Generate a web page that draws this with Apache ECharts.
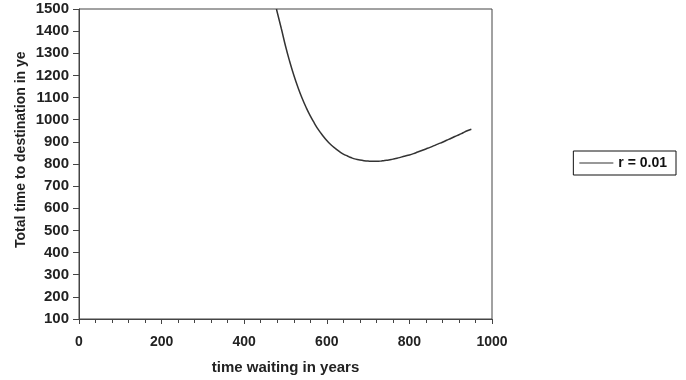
<!DOCTYPE html>
<html><head><meta charset="utf-8">
<script src="https://cdn.jsdelivr.net/npm/echarts@6/dist/echarts.min.js"></script>
<style>html,body{margin:0;padding:0;background:#fff}#c{width:686px;height:380px}</style>
</head><body><div id="c"></div>
<script>
const waitYears = [478,490,500,510,520,530,540,550,560,570,580,590,600,610,620,630,640,650,660,670,680,690,700,710,720,730,740,750,760,770,780,790,800,810,820,830,840,850,860,870,880,890,900,910,920,930,940,950];
const totalYears = [1500,1411,1333,1264,1202,1147,1098,1055,1017,984,954,929,906,887,871,857,845,836,828,822,818,815,813,812,812,813,816,818,822,826,831,836,841,847,854,861,868,875,883,891,898,907,915,924,932,941,950,957];
const seriesName = 'r = 0.01';
const xTitle = 'time waiting in years';
const yTitle = 'Total time to destination in years';

const font = '"Liberation Sans", Arial, sans-serif';
const chart = echarts.init(document.getElementById('c'));
chart.setOption({
  animation: false,
  grid: {left: 79, right: 194, top: 9, bottom: 61, show: true, borderColor: '#444', borderWidth: 1,
    containLabel: false, outerBoundsMode: 'none'},
  graphic: [{
    type: 'text', x: 21, y: 248, rotation: Math.PI / 2,
    style: {text: yTitle, fontFamily: font, fontWeight: 'bold', fontSize: 14, fill: '#222',
      width: 203, overflow: 'truncate', ellipsis: '', align: 'left', verticalAlign: 'middle'}
  }],
  legend: {
    data: [seriesName], right: 10, top: 151, orient: 'vertical',
    itemWidth: 34, itemHeight: 10, itemGap: 0, padding: [5, 9, 5, 6],
    borderColor: '#111', borderWidth: 1, icon: 'path://M0,4.5L34,4.5L34,5.5L0,5.5Z',
    textStyle: {fontFamily: font, fontWeight: 'bold', fontSize: 14, color: '#111'}
  },
  xAxis: {
    type: 'value', min: 0, max: 1000, interval: 200,
    name: xTitle, nameLocation: 'middle', nameGap: 41,
    nameTextStyle: {fontFamily: font, fontWeight: 'bold', fontSize: 15, color: '#222'},
    axisLine: {show: true, lineStyle: {color: '#444', width: 1}},
    axisTick: {show: true, length: 5, lineStyle: {color: '#444'}},
    minorTick: {show: true, splitNumber: 5, length: 4, lineStyle: {color: '#444'}},
    splitLine: {show: false},
    axisLabel: {fontFamily: font, fontWeight: 'bold', fontSize: 14, color: '#222', margin: 16,
      formatter: v => String(v)}
  },
  yAxis: {
    type: 'value', min: 100, max: 1500, interval: 100,
    axisLine: {show: true, lineStyle: {color: '#444', width: 1}},
    axisTick: {show: true, length: 6, lineStyle: {color: '#444'}},
    splitLine: {show: false},
    axisLabel: {fontFamily: font, fontWeight: 'bold', fontSize: 15, color: '#222', margin: 10,
      formatter: v => String(v)}
  },
  series: [{
    name: seriesName, type: 'line', data: waitYears.map((x, i) => [x, totalYears[i]]),
    showSymbol: false, smooth: true, clip: true,
    lineStyle: {color: '#333', width: 1.5}, itemStyle: {color: '#333'}
  }]
});
</script></body></html>
